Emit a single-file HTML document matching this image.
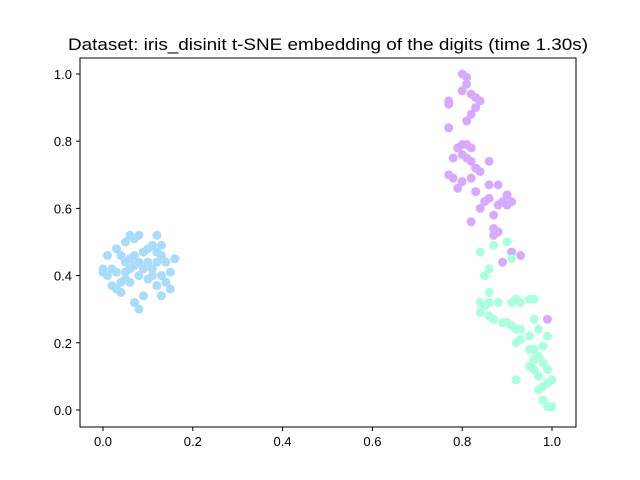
<!DOCTYPE html>
<html><head><meta charset="utf-8"><style>body{margin:0;background:#fff}svg{display:block;font-family:"Liberation Sans","DejaVu Sans",sans-serif}</style></head>
<body>
<svg id="chart" width="640" height="480" viewBox="0 0 640 480">
<rect width="640" height="480" fill="#fff"/>
<text x="328" y="50" text-anchor="middle" font-size="17" textLength="520" lengthAdjust="spacingAndGlyphs">Dataset: iris_disinit t-SNE embedding of the digits (time 1.30s)</text>
<g id="marks"></g>
<rect x="80" y="58" width="496" height="369" fill="none" stroke="#000" stroke-width="1"/>
<g id="axes"></g>
</svg>
<script>
const xTicks=[0,0.2,0.4,0.6,0.8,1.0];
const yTicks=[0,0.2,0.4,0.6,0.8,1.0];
const tickLabels=["0.0","0.2","0.4","0.6","0.8","1.0"];
const seriesColors=["#a8dcfa","#d8aaff","#aaffdc"];
const seriesNames=["cluster-blue","cluster-purple","cluster-mint"];
const blueX=[0.00,0.01,0.02,0.01,0.03,0.04,0.05,0.06,0.07,0.08,0.03,0.04,0.05,0.06,0.07,0.08,0.09,0.10,0.11,0.12,0.13,0.12,0.13,0.14,0.15,0.16,0.14,0.15,0.13,0.12,0.11,0.10,0.09,0.08,0.07,0.06,0.05,0.04,0.03,0.02,0.07,0.09,0.10,0.11,0.12,0.06,0.05,0.08,0.13,0.00];
const blueY=[0.42,0.40,0.37,0.46,0.48,0.46,0.50,0.52,0.51,0.52,0.41,0.38,0.44,0.45,0.43,0.40,0.47,0.48,0.49,0.52,0.49,0.47,0.46,0.44,0.41,0.45,0.38,0.36,0.34,0.37,0.40,0.39,0.34,0.30,0.32,0.38,0.39,0.35,0.36,0.42,0.46,0.42,0.44,0.42,0.44,0.42,0.41,0.44,0.40,0.41];
const purpleX=[0.80,0.81,0.81,0.80,0.82,0.83,0.84,0.83,0.77,0.77,0.82,0.81,0.77,0.80,0.79,0.81,0.82,0.80,0.81,0.78,0.82,0.83,0.84,0.86,0.77,0.78,0.79,0.80,0.82,0.86,0.88,0.83,0.85,0.84,0.86,0.88,0.89,0.90,0.91,0.87,0.82,0.87,0.88,0.87,0.91,0.93,0.89,0.99,0.90];
const purpleY=[1.00,0.99,0.97,0.95,0.94,0.93,0.92,0.90,0.92,0.91,0.88,0.86,0.84,0.79,0.78,0.79,0.78,0.76,0.75,0.75,0.74,0.72,0.71,0.74,0.70,0.69,0.66,0.68,0.69,0.67,0.67,0.65,0.62,0.60,0.63,0.61,0.62,0.64,0.62,0.58,0.56,0.54,0.53,0.52,0.47,0.46,0.44,0.27,0.61];
const mintX=[0.84,0.87,0.90,0.86,0.85,0.91,0.86,0.84,0.85,0.86,0.88,0.91,0.92,0.93,0.95,0.96,0.84,0.86,0.87,0.89,0.90,0.91,0.92,0.93,0.96,0.93,0.95,0.97,0.99,0.92,0.95,0.96,0.97,0.98,0.96,0.97,0.99,1.00,0.98,0.97,0.99,0.92,0.99,1.00,0.98,0.96,0.98,0.95];
const mintY=[0.47,0.49,0.50,0.42,0.40,0.45,0.35,0.32,0.31,0.32,0.32,0.32,0.33,0.32,0.33,0.33,0.29,0.28,0.27,0.26,0.26,0.25,0.24,0.24,0.27,0.21,0.22,0.24,0.22,0.20,0.18,0.15,0.16,0.14,0.12,0.10,0.12,0.09,0.07,0.06,0.08,0.09,0.01,0.01,0.03,0.18,0.19,0.13];

const NS="http://www.w3.org/2000/svg";
function sx(v){return 103+449*v;}
function sy(v){return 410-336*v;}
const marks=document.getElementById('marks');
const all=[[blueX,blueY],[purpleX,purpleY],[mintX,mintY]];
all.forEach((s,k)=>{
  s[0].forEach((x,i)=>{
    const c=document.createElementNS(NS,'circle');
    c.setAttribute('cx',sx(x));c.setAttribute('cy',sy(s[1][i]));c.setAttribute('r',4.5);
    c.setAttribute('fill',seriesColors[k]);
    
    
    marks.appendChild(c);
  });
});
const axes=document.getElementById('axes');
xTicks.forEach((t,i)=>{
  const l=document.createElementNS(NS,'line');
  l.setAttribute('x1',sx(t));l.setAttribute('x2',sx(t));l.setAttribute('y1',427);l.setAttribute('y2',431);l.setAttribute('stroke','#000');
  
  
  axes.appendChild(l);
  const tx=document.createElementNS(NS,'text');
  tx.setAttribute('x',sx(t));tx.setAttribute('y',446);tx.setAttribute('text-anchor','middle');tx.setAttribute('font-size','13');
  tx.textContent=tickLabels[i];
  
  
  axes.appendChild(tx);
});
yTicks.forEach((t,i)=>{
  const l=document.createElementNS(NS,'line');
  l.setAttribute('x1',76);l.setAttribute('x2',80);l.setAttribute('y1',sy(t));l.setAttribute('y2',sy(t));l.setAttribute('stroke','#000');
  
  
  axes.appendChild(l);
  const tx=document.createElementNS(NS,'text');
  tx.setAttribute('x',72);tx.setAttribute('y',sy(t)+5);tx.setAttribute('text-anchor','end');tx.setAttribute('font-size','13');
  tx.textContent=tickLabels[i];
  
  
  axes.appendChild(tx);
});
</script>
</body></html>
